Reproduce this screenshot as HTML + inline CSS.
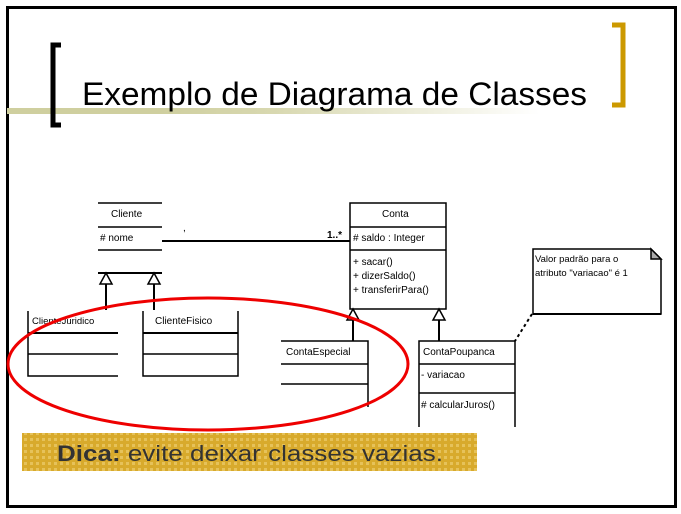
<!DOCTYPE html>
<html><head><meta charset="utf-8"><style>
html,body{margin:0;padding:0;background:#fff;}
body{width:681px;height:514px;position:relative;overflow:hidden;}
</style></head><body>
<svg width="681" height="514" viewBox="0 0 681 514" xmlns="http://www.w3.org/2000/svg" style="position:absolute;left:0;top:0">
<defs>
<linearGradient id="g" x1="0" x2="1" y1="0" y2="0">
<stop offset="0" stop-color="#cfcf9f"/><stop offset="0.3" stop-color="#d8d8b0"/><stop offset="1" stop-color="#fff"/>
</linearGradient>
<pattern id="p" width="6" height="6" patternUnits="userSpaceOnUse">
<rect width="6" height="6" fill="#d8aa2c"/><rect width="3" height="3" fill="#e6c25a"/>
</pattern>
</defs>
<rect x="7.5" y="7.5" width="668" height="499" fill="#fff" stroke="#000" stroke-width="3"/>
<rect x="7" y="108" width="160" height="6" fill="#cfcf9f"/>
<rect x="160" y="108" width="380" height="6" fill="url(#g)"/>
<path d="M61 45 H53 V125 H61" fill="none" stroke="#000" stroke-width="5"/>
<path d="M612 25 H623 V105 H612" fill="none" stroke="#cc9900" stroke-width="5"/>
<text x="82" y="105" font-family="Liberation Sans, sans-serif" font-size="32" fill="#000" textLength="505" lengthAdjust="spacingAndGlyphs">Exemplo de Diagrama de Classes</text>

<g stroke="#000" stroke-width="1.5" fill="none">
<line x1="98" y1="203" x2="162" y2="203"/><line x1="98" y1="227" x2="162" y2="227"/><line x1="98" y1="250" x2="162" y2="250"/>
<line x1="162" y1="241" x2="350" y2="241" stroke-width="2"/>
<line x1="98" y1="273" x2="162" y2="273" stroke-width="2"/>
<path d="M106 273 L100 284 H112 Z M154 273 L148 284 H160 Z" fill="#fff"/>
<line x1="106" y1="284" x2="106" y2="310" stroke-width="2"/>
<line x1="154" y1="284" x2="154" y2="310" stroke-width="2"/>
<path d="M28 311 V376 H118"/><line x1="28" y1="333" x2="118" y2="333" stroke-width="2"/><line x1="28" y1="354" x2="118" y2="354"/>
<path d="M143 311 V376 H238 V311"/><line x1="143" y1="333" x2="238" y2="333" stroke-width="2"/><line x1="143" y1="354" x2="238" y2="354"/>
<rect x="350" y="203" width="96" height="106"/><line x1="350" y1="227" x2="446" y2="227"/><line x1="350" y1="250" x2="446" y2="250"/>
<path d="M353 309 L347 320 H359 Z M439 309 L433 320 H445 Z" fill="#fff"/>
<line x1="353" y1="320" x2="353" y2="341" stroke-width="2"/>
<line x1="439" y1="320" x2="439" y2="341" stroke-width="2"/>
<path d="M281 341 H368 V407"/><line x1="281" y1="364" x2="368" y2="364"/><line x1="281" y1="384" x2="368" y2="384"/>
<path d="M419 427 V341 H515 V427"/><line x1="419" y1="364" x2="515" y2="364"/><line x1="419" y1="393" x2="515" y2="393"/>
<path d="M533 249 H651 L661 259 V314 H533 Z"/>
<path d="M651 249 V259 H661 Z" fill="#aaa"/>
<line x1="661" y1="314" x2="533" y2="314" stroke-width="2"/>
<line x1="532" y1="314" x2="515" y2="341" stroke-dasharray="3,3" stroke-width="2"/>
</g>
<g font-family="Liberation Sans, sans-serif" font-size="10" fill="#000">
<text x="111" y="217">Cliente</text>
<text x="100" y="241"># nome</text>
<text x="327" y="238" font-weight="bold">1..*</text>
<text x="183" y="231">,</text>
<text x="32" y="324" font-size="9.5">ClienteJuridico</text>
<text x="155" y="324">ClienteFisico</text>
<text x="382" y="217">Conta</text>
<text x="353" y="241"># saldo : Integer</text>
<text x="353" y="265">+ sacar()</text>
<text x="353" y="279">+ dizerSaldo()</text>
<text x="353" y="293">+ transferirPara()</text>
<text x="286" y="355">ContaEspecial</text>
<text x="423" y="355">ContaPoupanca</text>
<text x="421" y="378">- variacao</text>
<text x="421" y="408"># calcularJuros()</text>
<text x="535" y="262" font-size="9.5">Valor padrão para o</text>
<text x="535" y="276" font-size="9.5">atributo "variacao" é 1</text>
</g>
<ellipse cx="208" cy="364" rx="200" ry="66" fill="none" stroke="#e00" stroke-width="3"/>
<rect x="22" y="433" width="455" height="38" fill="url(#p)"/>
<text x="57" y="461" font-family="Liberation Sans, sans-serif" font-size="22" fill="#333" textLength="386" lengthAdjust="spacingAndGlyphs"><tspan font-weight="bold">Dica:</tspan> evite deixar classes vazias.</text>
</svg>
</body></html>
